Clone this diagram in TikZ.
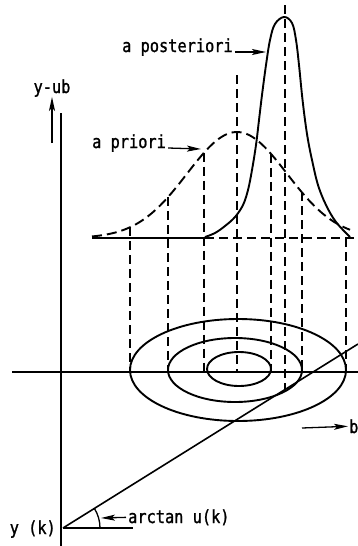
\documentclass[tikz,border=0pt]{standalone}
\usepackage{fontspec}
\newfontfamily\tw[FakeStretch=0.85,FakeBold=1.2]{DejaVu Sans Mono}
\usetikzlibrary{arrows.meta}
\begin{document}
\begin{tikzpicture}[x=1pt,y=-1pt,
  lbl/.style={font=\tw\fontsize{18}{20}\selectfont, inner sep=0pt},
  solidline/.style={line width=1.9pt, line join=round},
  axisline/.style={line width=1.6pt},
  proj/.style={line width=1.6pt, dash pattern=on 9pt off 5pt},
  ptr/.style={line width=1.3pt, -{Stealth[length=14pt,width=6pt,inset=3pt]}},
  declare function={prior(\x)=238-106*exp(-0.5*pow((\x-237)/50,2));}
]
\useasboundingbox (0,0) rectangle (358,546);

% axes
\draw[axisline] (61,113) -- (61,546);
\draw[axisline] (12,372) -- (358,372);

% baseline of the densities
\draw[axisline] (92,238) -- (205,238);
\draw[proj] (205,238) -- (358,238);

% a priori density (dashed)
\draw[solidline, dash pattern=on 10pt off 5pt] plot[domain=92:350, samples=80] (\x,{prior(\x)});

% a posteriori density (solid)
\draw[solidline] plot[smooth, tension=0.6] coordinates {
 (205,237) (215,233) (225,226) (235,217) (243,205) (248,190) (252,170)
 (256,145) (259,120) (262,95) (266,65) (270,40) (275,24) (284,17)
 (292,23) (296,40) (299,65) (302,95) (305,120) (308,140) (312,160)
 (318,185) (326,205) (336,222) (350,237)};

% projection lines
\draw[proj] (130,{prior(130)}) -- (130,372);
\draw[proj] (168,{prior(168)}) -- (168,372);
\draw[proj] (204,{prior(204)}) -- (204,372);
\draw[proj] (237,75) -- (237,372);
\draw[proj] (271,{prior(271)}) -- (271,372);
\draw[proj] (285,5) -- (285,390);
\draw[proj] (302,{prior(302)}) -- (302,372);
\draw[proj] (346,238) -- (346,372);

% contour ellipses
\draw[solidline] (238,370) ellipse[x radius=108, y radius=51];
\draw[solidline] (235,370) ellipse[x radius=67, y radius=32];
\draw[solidline] (239,369) ellipse[x radius=32, y radius=17];

% regression line and angle
\coordinate (yk) at (63,528);
\draw[axisline] (yk) -- (358,344);
\draw[axisline] (yk) -- (133,528);
\draw[line width=1.3pt] (100,528) arc[start angle=0, end angle=-32, radius=37];

% labels
\node[lbl, anchor=base west] (post) at (122,52) {a posteriori};
\coordinate (postTip) at (266,52);
\draw[ptr] ([xshift=2pt]post.base east) -- (postTip);

\node[lbl, anchor=base west] (prio) at (92,148) {a priori};
\coordinate (prioTip) at (201,149);
\draw[ptr] ([xshift=2pt]prio.base east) -- (prioTip);

\node[lbl, anchor=base] (yub) at (52,93) {y-ub};
\coordinate (yubTail) at (52,143);
\draw[ptr] (yubTail) -- (yub.south);

\node[lbl, anchor=base west] (arct) at (128,523) {arctan u(k)};
\coordinate (arcTip) at (101,518);
\draw[ptr] ([xshift=-2pt]arct.west) -- (arcTip);

\node[lbl, anchor=base east] (ykl) at (56,534) {y (k)};

\node[lbl, anchor=base west] (bl) at (349,433) {b};
\coordinate (bTail) at (302,428);
\draw[ptr] (bTail) -- ([xshift=-1pt]bl.west);
\end{tikzpicture}
\end{document}
